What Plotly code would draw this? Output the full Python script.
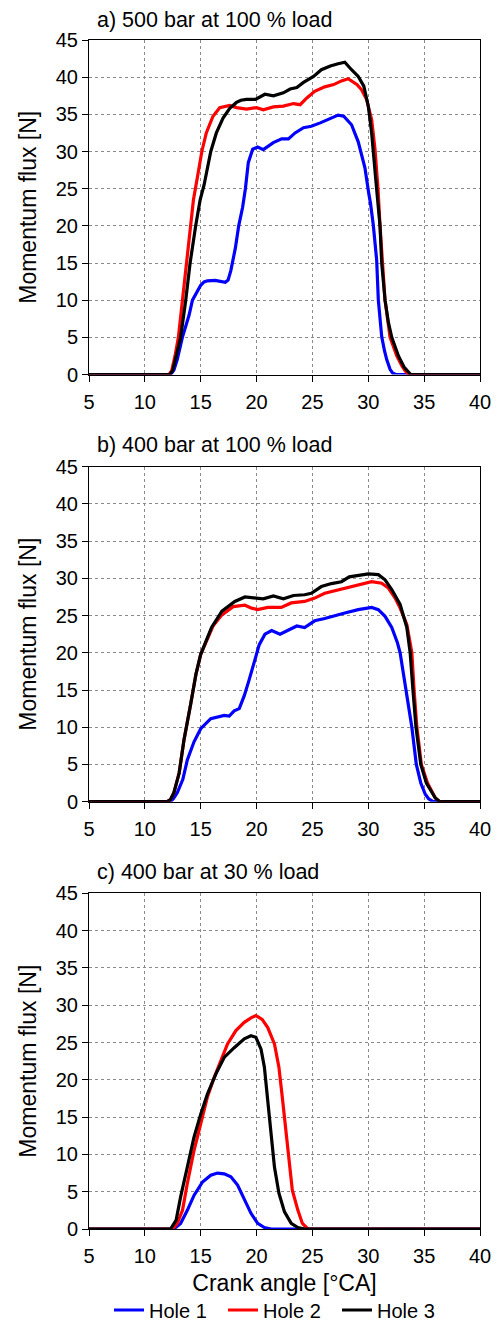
import plotly.graph_objects as go

# ---------------- data (crank angle [°CA], momentum flux [N]) ----------------
# Panel a) 500 bar at 100 % load
a_h1_x = [5, 12.0, 12.3, 12.6, 12.9, 13.36, 13.96, 14.26, 14.7, 15.0, 15.3, 15.6, 16.3, 16.9, 17.2,
          17.45, 17.7, 18.1, 18.4, 18.75, 19.0, 19.26, 19.65, 20.1, 20.6, 21.5, 22.25, 22.85, 23.45,
          24.2, 24.9, 25.7, 26.6, 27.3, 27.8, 28.5, 29.1, 29.7, 30.05, 30.2, 30.45, 30.75, 30.9,
          31.2, 31.45, 31.65, 31.95, 32.2, 32.5, 40]
a_h1_y = [0, 0, 0, 0.6, 2, 5, 8, 10, 11.3, 12, 12.45, 12.6, 12.65, 12.55, 12.4,
          12.7, 14, 17, 20, 22.5, 25, 28.5, 30.3, 30.6, 30.25, 31.2, 31.7, 31.7, 32.5,
          33.2, 33.4, 33.85, 34.5, 34.9, 34.75, 33.6, 31.3, 27.8, 24.3, 23.0, 20.1, 15.4, 10,
          5.1, 3.2, 2.0, 0.7, 0.15, 0, 0]

a_h2_x = [5, 12.17, 12.4, 12.7, 13.0, 13.36, 13.75, 14.1, 14.35, 14.7, 14.9, 15.1, 15.5, 16.1, 16.7,
          17.6, 18.2, 19.1, 20.0, 20.6, 21.5, 22.4, 23.3, 23.9, 24.5, 25.2, 26.1, 26.9, 27.6, 28.2,
          29.0, 29.4, 29.85, 30.3, 30.6, 30.87, 31.05, 31.3, 31.5, 31.95, 32.55, 33.0, 33.3, 33.6, 40]
a_h2_y = [0, 0, 0.5, 2.5, 5, 10, 15, 20, 23.5, 26.5, 28.5, 30, 32.5, 34.75, 35.9,
          36.2, 35.9, 35.7, 35.9, 35.6, 36.0, 36.1, 36.45, 36.3, 37.2, 38.1, 38.7, 39.0, 39.5, 39.8,
          39.0, 38.3, 37.0, 34.3, 30.3, 25, 20, 15, 10, 5, 2.5, 1.2, 0.5, 0, 0]

a_h3_x = [5, 12.26, 12.5, 12.8, 13.2, 13.66, 14.05, 14.55, 14.95, 15.3, 15.9, 16.4, 17.0, 17.6, 18.2,
          18.6, 19.1, 19.9, 20.75, 21.5, 22.4, 23.0, 23.6, 24.2, 25.1, 25.8, 26.6, 27.3, 27.9, 28.5,
          29.1, 29.6, 30.0, 30.3, 30.6, 30.75, 31.05, 31.2, 31.5, 31.8, 32.1, 32.7, 33.2, 33.8, 40]
a_h3_y = [0, 0, 0.6, 2.5, 5, 10, 15, 20, 23.5, 25.5, 30, 32.5, 34.5, 35.8, 36.6,
          36.9, 37.0, 37.0, 37.7, 37.5, 37.9, 38.4, 38.6, 39.3, 40.1, 41.0, 41.5, 41.8, 42.0, 41.0,
          40.1, 38.8, 36.1, 32.5, 28.0, 24.9, 20, 15, 10, 7, 5, 2.5, 1, 0, 0]

# Panel b) 400 bar at 100 % load
b_h1_x = [5, 12.27, 12.55, 12.9, 13.4, 13.8, 14.4, 15.0, 15.9, 16.5, 17.1, 17.55, 18.0, 18.45, 18.9,
          19.3, 19.8, 20.24, 20.75, 21.35, 22.1, 22.85, 23.6, 24.3, 25.2, 26.1, 27.0, 27.9, 29.1,
          30.3, 30.9, 31.5, 32.1, 32.6, 32.85, 33.4, 33.9, 34.3, 34.7, 35.1, 35.4, 35.8, 40]
b_h1_y = [0, 0, 0.4, 1.2, 3.0, 5.6, 8.05, 9.8, 11.15, 11.4, 11.6, 11.5, 12.2, 12.5, 14.25,
          16.2, 18.9, 21.1, 22.5, 23.0, 22.5, 23.1, 23.6, 23.4, 24.3, 24.6, 25.0, 25.35, 25.8,
          26.1, 25.8, 24.9, 23.4, 21.4, 20, 15, 10, 5, 2.5, 1.0, 0.4, 0, 0]

b_h2_x = [5, 12.0, 12.3, 12.6, 13.07, 13.5, 14.1, 14.57, 15.0, 15.6, 16.1, 16.9, 17.9, 18.96, 19.55,
          20.1, 21.0, 22.2, 23.1, 24.3, 25.2, 26.1, 27.3, 28.5, 29.7, 30.3, 31.2, 31.8, 32.4, 32.85,
          33.45, 33.9, 34.1, 34.35, 34.75, 35.3, 36.0, 36.4, 40]
b_h2_y = [0, 0, 0.3, 1.2, 3.85, 8.3, 13.1, 17.1, 19.8, 21.8, 23.6, 25.1, 26.2, 26.4, 26.0,
          25.8, 26.1, 26.1, 26.7, 26.9, 27.35, 28.0, 28.45, 28.9, 29.3, 29.55, 29.35, 28.7, 27.35, 26.0,
          23.8, 20, 15, 10, 5, 2.5, 0.5, 0, 0]

b_h3_x = [5, 12.0, 12.3, 12.6, 13.07, 13.5, 14.1, 14.57, 15.0, 15.3, 15.97, 16.9, 18.05, 18.96, 19.85,
          20.6, 21.5, 22.4, 23.3, 24.3, 24.9, 25.8, 26.7, 27.6, 28.3, 29.1, 30.0, 30.9, 31.5, 32.1,
          32.85, 33.45, 33.75, 34.0, 34.27, 34.7, 35.2, 36.0, 36.4, 40]
b_h3_y = [0, 0, 0.3, 1.2, 3.85, 8.3, 13.1, 17.1, 19.8, 21.0, 23.4, 25.6, 26.9, 27.5, 27.35,
          27.25, 27.65, 27.25, 27.7, 27.8, 28.0, 28.9, 29.3, 29.55, 30.2, 30.35, 30.6, 30.5, 29.8, 28.5,
          26.5, 23.4, 20, 15, 10, 5, 2.5, 0.5, 0, 0]

# Panel c) 400 bar at 30 % load
c_h1_x = [5, 12.6, 13.2, 13.8, 14.4, 15.16, 15.9, 16.5, 17.1, 17.7, 18.3, 18.9, 19.5, 20.1, 20.7,
          21.3, 40]
c_h1_y = [0, 0, 0.75, 2.5, 4.5, 6.3, 7.2, 7.5, 7.4, 7.0, 5.9, 4.1, 2.1, 0.75, 0.2,
          0, 0]

c_h2_x = [5, 12.48, 12.9, 13.37, 13.8, 14.4, 15.0, 15.6, 16.2, 16.8, 17.4, 18.15, 18.9, 19.5, 19.94,
          20.5, 21.0, 21.6, 22.0, 22.3, 22.6, 22.9, 23.2, 23.7, 24.1, 24.6, 40]
c_h2_y = [0, 0, 0.75, 2.5, 6.1, 10.5, 14.1, 17.7, 20.3, 22.6, 24.8, 26.6, 27.7, 28.3, 28.6,
          28.1, 27.0, 24.8, 21.7, 17.7, 13.2, 8.8, 5.2, 2.5, 0.75, 0, 0]

c_h3_x = [5, 12.3, 12.8, 13.2, 13.8, 14.4, 15.0, 15.6, 16.36, 17.1, 18.0, 18.9, 19.5, 19.94, 20.4,
          20.7, 21.0, 21.3, 21.6, 22.0, 22.5, 23.1, 23.7, 24.3, 40]
c_h3_y = [0, 0, 1.2, 4.3, 8.3, 12.3, 15.4, 18.1, 20.8, 23.0, 24.3, 25.5, 25.9, 25.7, 24.1,
          21.7, 17.2, 12.8, 8.3, 4.8, 2.3, 0.75, 0.2, 0, 0]

panel_titles = ["a) 500 bar at 100 % load", "b) 400 bar at 100 % load", "c) 400 bar at 30 % load"]
series_names = ["Hole 1", "Hole 2", "Hole 3"]
series_colors = ["#0000FF", "#FF0000", "#000000"]
x_ticks = [5, 10, 15, 20, 25, 30, 35, 40]
y_ticks = [0, 5, 10, 15, 20, 25, 30, 35, 40, 45]

panels = [
    [(a_h1_x, a_h1_y), (a_h2_x, a_h2_y), (a_h3_x, a_h3_y)],
    [(b_h1_x, b_h1_y), (b_h2_x, b_h2_y), (b_h3_x, b_h3_y)],
    [(c_h1_x, c_h1_y), (c_h2_x, c_h2_y), (c_h3_x, c_h3_y)],
]

# ---------------- figure ----------------
FONT = "Arial, Liberation Sans, sans-serif"
W, H = 498, 1322
ML, MR, MT, MB = 89, 18, 40, 93
PH = H - MT - MB

def py2dom(py):
    return (H - MB - py) / PH

domains = [(py2dom(374.5), py2dom(40)), (py2dom(801.7), py2dom(466.7)), (py2dom(1229), py2dom(893.3))]
domains = [(max(0, lo), min(1, hi)) for lo, hi in domains]

fig = go.Figure()
for p, series in enumerate(panels):
    sfx = "" if p == 0 else str(p + 1)
    for s, (xs, ys) in enumerate(series):
        fig.add_trace(go.Scatter(
            x=xs, y=ys, mode="lines", name=series_names[s],
            line=dict(color=series_colors[s], width=3.2, shape="linear"),
            xaxis="x" + sfx, yaxis="y" + sfx,
            showlegend=(p == 0),
        ))

axis_common = dict(
    showline=True, linecolor="black", linewidth=1, mirror=True,
    ticks="outside", ticklen=6, tickcolor="black", tickwidth=1,
    showgrid=True, gridcolor="#8a8a8a", griddash="dot", gridwidth=1,
    zeroline=False, tickfont=dict(family=FONT, size=20, color="black"),
)

layout = dict(
    width=W, height=H,
    margin=dict(l=ML, r=MR, t=MT, b=MB, autoexpand=False),
    paper_bgcolor="white", plot_bgcolor="white",
    font=dict(family=FONT, color="black"),
    legend=dict(orientation="h", x=(109 - ML) / (W - ML - MR), xanchor="left",
                y=(H - MB - 1310) / PH, yanchor="middle",
                font=dict(family=FONT, size=20, color="black"),
                entrywidth=69, entrywidthmode="pixels",
                bgcolor="rgba(0,0,0,0)"),
    annotations=[],
)

for p in range(3):
    sfx = "" if p == 0 else str(p + 1)
    xa = dict(axis_common, range=[5, 40], tickvals=x_ticks, domain=[0, 1],
              anchor="y" + sfx, ticklabelstandoff=3)
    if p == 2:
        xa["title"] = dict(text="Crank angle [°CA]", font=dict(family=FONT, size=23), standoff=8)
    ya = dict(axis_common, range=[0, 45], tickvals=y_ticks, domain=list(domains[p]),
              anchor="x" + sfx,
              title=dict(text="Momentum flux [N]", font=dict(family=FONT, size=23), standoff=12))
    layout["xaxis" + sfx] = xa
    layout["yaxis" + sfx] = ya

title_py = [19.5, 445, 872]
for p in range(3):
    layout["annotations"].append(dict(
        text=panel_titles[p], xref="paper", yref="paper",
        x=(95 - ML) / (W - ML - MR), xanchor="left",
        y=py2dom(title_py[p]), yanchor="middle", showarrow=False,
        font=dict(family=FONT, size=21.5, color="black"),
    ))

fig.update_layout(**layout)
fig.write_html("out.html",
               config={"displayModeBar": False},
               post_script="document.body.style.margin='0';document.body.style.padding='0';")
